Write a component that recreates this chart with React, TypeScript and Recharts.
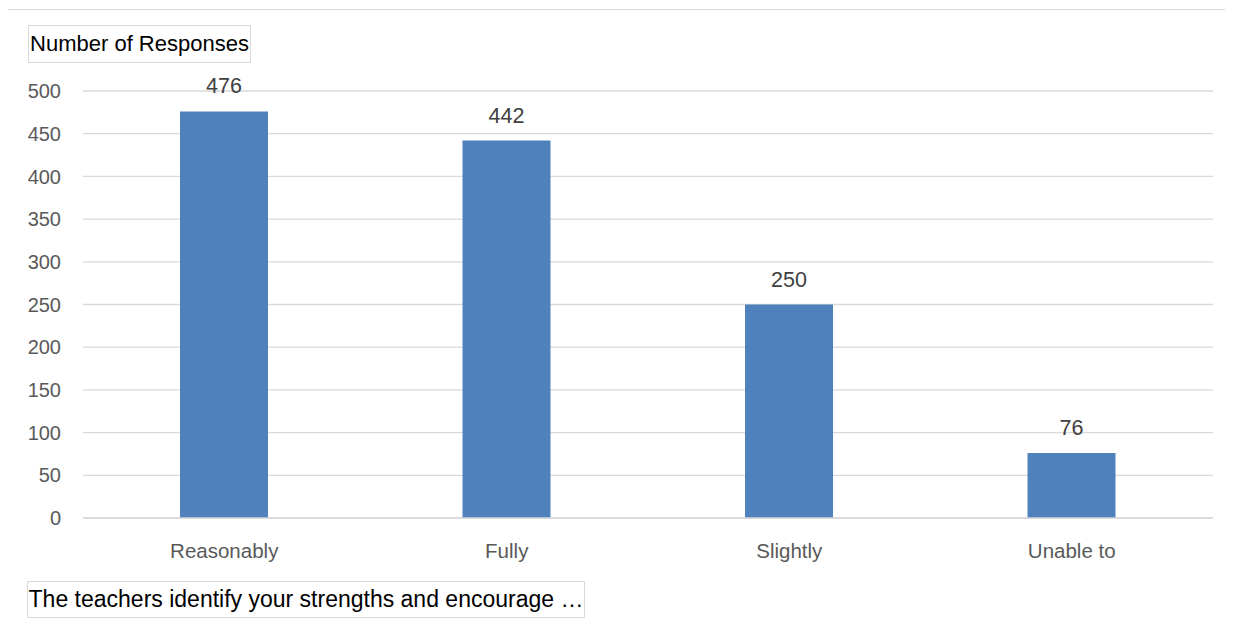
import React from "react";
import { BarChart, Bar, XAxis, YAxis, CartesianGrid, LabelList } from "recharts";

const categories = ["Reasonably", "Fully", "Slightly", "Unable to"];
const responses = [476, 442, 250, 76];
const yTicks = [0, 50, 100, 150, 200, 250, 300, 350, 400, 450, 500];
const titleText = "Number of Responses";
const footerText = "The teachers identify your strengths and encourage …";

const data = categories.map((c, i) => ({ name: c, value: responses[i] }));

const FONT = "'Liberation Sans', Arial, sans-serif";

export default function App() {
  return (
    <div style={{ position: "relative", width: 1233, height: 627, margin: -8, overflow: "hidden", background: "#fff", fontFamily: FONT }}>
      <div style={{ position: "absolute", left: 7, top: 9, width: 1300, height: 700, borderTop: "1px solid #d9d9d9", borderLeft: "1px solid #d9d9d9", boxSizing: "border-box" }} />
      <div style={{ position: "absolute", left: 0, top: 0 }}>
        <BarChart width={1233} height={627} data={data} margin={{ top: 91, right: 20, bottom: 69, left: 23 }}>
          <CartesianGrid vertical={false} stroke="#d9d9d9" strokeWidth={1.3} />
          <XAxis
            dataKey="name"
            axisLine={{ stroke: "#d9d9d9", strokeWidth: 1.3 }}
            tickLine={false}
            tickSize={0}
            tickMargin={25}
            height={40}
            tick={{ fill: "#595959", fontSize: 20.5, fontFamily: FONT }}
          />
          <YAxis
            domain={[0, 500]}
            ticks={yTicks}
            axisLine={false}
            tickLine={false}
            tickSize={0}
            tickMargin={22}
            width={60}
            tick={{ fill: "#595959", fontSize: 20, fontFamily: FONT }}
          />
          <Bar dataKey="value" fill="#4f81bd" barSize={88} isAnimationActive={false}>
            <LabelList dataKey="value" position="top" offset={18} fill="#404040" fontSize={21.5} fontFamily={FONT} />
          </Bar>
        </BarChart>
      </div>
      <div style={{ position: "absolute", left: 28, top: 25, width: 223, height: 38, border: "1px solid #d9d9d9", boxSizing: "border-box", display: "flex", alignItems: "center", justifyContent: "center", fontSize: 22, color: "#000", whiteSpace: "nowrap" }}>
        {titleText}
      </div>
      <div style={{ position: "absolute", left: 27, top: 581, width: 558, height: 37, border: "1px solid #d9d9d9", boxSizing: "border-box", display: "flex", alignItems: "center", justifyContent: "center", fontSize: 23, color: "#000", whiteSpace: "nowrap" }}>
        {footerText}
      </div>
    </div>
  );
}
